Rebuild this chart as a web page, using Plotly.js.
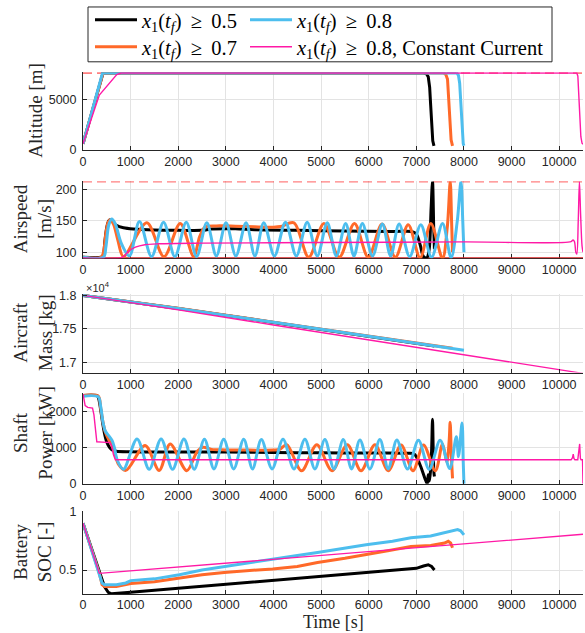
<!DOCTYPE html>
<html><head><meta charset="utf-8">
<script src="https://cdn.plot.ly/plotly-3.0.1.min.js"></script>
<style>html,body{margin:0;padding:0;background:#fff}#chart{width:585px;height:633px}</style>
</head><body><div id="chart"></div>
<script>
// ---------- Altitude [m] ----------
const tAltBlack = [0, 420, 7150, 7210, 7250, 7280, 7300, 7320, 7345, 7370];
const altBlack  = [600, 7620, 7620, 7550, 7250, 6200, 4500, 2500, 900, 400];
const tAltOrange = [0, 420, 7570, 7620, 7655, 7680, 7705, 7730, 7760];
const altOrange  = [600, 7620, 7620, 7480, 7000, 5200, 2800, 1000, 400];
const tAltBlue = [0, 410, 7850, 7885, 7910, 7935, 7960, 7985, 8000];
const altBlue  = [600, 7620, 7620, 7380, 6600, 4200, 1800, 600, 400];
const tAltMag = [0, 343, 709, 800, 10370, 10392, 10410, 10430, 10455, 10480, 10500];
const altMag  = [600, 5435, 7470, 7620, 7620, 7300, 5600, 3200, 1300, 650, 550];
const altLimit = 7620;

// ---------- Airspeed [m/s] ----------
const tSpdBlack = [0, 380, 420, 460, 500, 540, 570, 620, 700, 850, 1060, 1500, 2000, 2500, 2700, 3200, 3600, 4500, 5500, 6500, 6900, 7000, 7080, 7150, 7220, 7270, 7310, 7340, 7365, 7380];
const spdBlack  = [92, 92, 94, 118, 140, 150, 152, 149, 143, 139, 137, 135.5, 135, 135, 137, 137.5, 136, 135, 134, 133, 133, 129, 112, 93, 91, 105, 170, 213, 140, 105];
const tSpdOrange = [0, 380, 430, 480, 530, 570, 640, 730, 849, 1340, 1700, 2042, 2324, 2450, 2560, 2800, 3200, 3600, 4000, 4150, 4430, 4740, 5060, 5380, 5700, 5990, 6280, 6560, 6830, 7080, 7304, 7550, 7650, 7712, 7740, 7760];
const spdOrange  = [92, 92, 100, 130, 148, 152, 145, 120, 93, 147, 93, 146, 93, 125, 140, 142, 141.5, 140.5, 140, 141, 147, 92, 146, 92, 146, 92, 145, 92, 144, 91, 146, 90, 140, 213, 150, 100];
const tSpdBlue = [0, 430, 480, 540, 603, 680, 800, 975, 1185, 1440, 1692, 1930, 2169, 2385, 2600, 2800, 3003, 3210, 3424, 3610, 3796, 4020, 4252, 4480, 4708, 4920, 5129, 5320, 5515, 5690, 5866, 6080, 6287, 6460, 6638, 6860, 7094, 7320, 7550, 7730, 7860, 7937, 7975, 8000];
const spdBlue  = [92, 92, 108, 143, 153, 145, 115, 94, 149, 93, 148, 93, 148, 93, 147, 94, 147, 94, 147, 94, 147, 94, 148, 94, 148, 94, 147, 94, 146, 94, 146, 94, 145, 94, 145, 93, 144, 92, 146, 91, 150, 213, 150, 100];
const tSpdMag = [0, 780, 850, 950, 1100, 1300, 1600, 2500, 5000, 8000, 10250, 10290, 10320, 10350, 10370, 10400, 10425, 10450, 10480, 10500];
const spdMag  = [91, 91, 93, 101, 108, 112, 113.5, 114.5, 115.5, 116.5, 117, 119.5, 117, 100, 97, 150, 213, 160, 110, 100];
const spdLimits = [90.9, 212.5];

// ---------- Aircraft mass [kg] ----------
const tMassBlack = [0, 400, 2000, 4000, 6000, 7380];
const massBlack  = [18000, 17962, 17805, 17598, 17390, 17245];
const tMassOrange = [0, 400, 2000, 4000, 6000, 7760];
const massOrange  = [18000, 17963, 17808, 17602, 17396, 17212];
const tMassBlue = [0, 400, 2000, 4000, 6000, 8000];
const massBlue  = [18000, 17963, 17806, 17600, 17393, 17183];
const tMassMag = [0, 400, 2000, 4000, 6000, 8000, 10500];
const massMag  = [18000, 17958, 17785, 17560, 17338, 17115, 16840];

// ---------- Shaft power [kW] ----------
const tPowBlack = [0, 300, 330, 370, 410, 450, 500, 560, 620, 700, 1000, 2000, 3000, 4000, 5000, 6000, 6800, 6950, 7020, 7100, 7180, 7230, 7250, 7275, 7300, 7320, 7340, 7355, 7370, 7380];
const powBlack  = [2440, 2430, 2350, 2050, 1700, 1400, 1150, 1000, 930, 900, 885, 875, 875, 865, 855, 850, 845, 830, 700, 450, 150, 0, 250, 80, 400, 900, 1780, 900, 300, 200];
const tPowOrange = [0, 320, 370, 420, 470, 540, 600, 660, 740, 900, 1305, 1600, 1830, 2180, 2400, 2520, 2700, 3000, 3500, 4000, 4130, 4280, 4590, 4910, 5230, 5550, 5840, 6130, 6410, 6680, 6930, 7150, 7400, 7550, 7640, 7690, 7710, 7735, 7760];
const powOrange  = [2440, 2420, 2100, 1700, 1420, 1220, 1080, 880, 550, 370, 1060, 370, 1100, 360, 900, 1010, 950, 935, 930, 930, 950, 1080, 360, 1080, 360, 1080, 360, 1080, 360, 1070, 360, 1070, 360, 1100, 600, 1200, 1700, 800, 150];
const tPowBlue = [0, 320, 370, 420, 470, 540, 610, 660, 720, 850, 1135, 1390, 1640, 1880, 2120, 2335, 2550, 2750, 2955, 3165, 3375, 3560, 3745, 3970, 4200, 4430, 4660, 4870, 5080, 5270, 5465, 5640, 5815, 6025, 6235, 6410, 6590, 6815, 7045, 7270, 7500, 7700, 7840, 7885, 7960, 7985, 8000];
const powBlue  = [2420, 2400, 2150, 1700, 1450, 1330, 1200, 1000, 650, 400, 1240, 400, 1240, 400, 1240, 400, 1230, 410, 1230, 410, 1230, 410, 1220, 410, 1230, 410, 1230, 410, 1220, 410, 1220, 410, 1210, 410, 1220, 410, 1210, 410, 1200, 400, 1200, 420, 1300, 750, 1680, 600, 0];
const tPowMag = [0, 20, 45, 100, 200, 230, 260, 290, 400, 560, 600, 640, 680, 1000, 5000, 10250, 10280, 10295, 10310, 10330, 10390, 10410, 10430, 10445, 10460, 10490, 10500];
const powMag  = [2480, 2300, 2160, 2110, 2090, 1900, 1400, 1160, 1150, 1140, 1050, 800, 665, 662, 662, 662, 720, 820, 700, 662, 662, 900, 1100, 700, 662, 662, 0];

// ---------- Battery SOC [-] ----------
const tSocBlack = [0, 344, 450, 530, 600, 1000, 2000, 3000, 4000, 5000, 6000, 7000, 7150, 7250, 7320, 7380];
const socBlack  = [0.9, 0.472, 0.36, 0.31, 0.298, 0.31, 0.345, 0.38, 0.413, 0.447, 0.48, 0.515, 0.535, 0.545, 0.53, 0.5];
const tSocOrange = [0, 344, 400, 450, 700, 900, 1004, 1500, 2024, 2500, 2965, 3500, 3984, 4500, 4925, 5500, 5945, 6400, 6886, 7300, 7592, 7670, 7720, 7760];
const socOrange  = [0.9, 0.472, 0.375, 0.36, 0.36, 0.375, 0.385, 0.4, 0.43, 0.46, 0.48, 0.495, 0.51, 0.53, 0.565, 0.6, 0.63, 0.665, 0.7, 0.71, 0.73, 0.745, 0.73, 0.69];
const tSocBlue = [0, 344, 400, 450, 700, 900, 1004, 1500, 2024, 2500, 2965, 3500, 3984, 4500, 4925, 5500, 5945, 6500, 6886, 7300, 7592, 7867, 7930, 8000];
const socBlue  = [0.9, 0.472, 0.39, 0.375, 0.375, 0.39, 0.41, 0.425, 0.46, 0.5, 0.53, 0.565, 0.598, 0.625, 0.65, 0.69, 0.715, 0.745, 0.775, 0.79, 0.815, 0.845, 0.835, 0.8];
const tSocMag = [0, 344, 10500];
const socMag  = [0.9, 0.472, 0.805];

const seriesNames = [
  '<i>x</i><sub>1</sub>(<i>t</i><sub><i>f</i></sub>)\u2009 \u2265 \u20090.5',
  '<i>x</i><sub>1</sub>(<i>t</i><sub><i>f</i></sub>)\u2009 \u2265 \u20090.7',
  '<i>x</i><sub>1</sub>(<i>t</i><sub><i>f</i></sub>)\u2009 \u2265 \u20090.8',
  '<i>x</i><sub>1</sub>(<i>t</i><sub><i>f</i></sub>)\u2009 \u2265 \u20090.8, Constant Current'
];
const colors = ['#000000', '#FF6929', '#4DBEEE', '#FF19A6'];
const widths = [3, 3, 3, 1.4];
const legendIds = ['legend', 'legend3', 'legend2', 'legend4'];

// ---------- build ----------
const H = 633, L = 83, PW = 500;
const py = v => 1 - v / H;
const pxp = v => (v - L) / PW;

const panels = [
  {t: [tAltBlack, tAltOrange, tAltBlue, tAltMag], y: [altBlack, altOrange, altBlue, altMag], shape: 'linear'},
  {t: [tSpdBlack, tSpdOrange, tSpdBlue, tSpdMag], y: [spdBlack, spdOrange, spdBlue, spdMag], shape: 'spline'},
  {t: [tMassBlack, tMassOrange, tMassBlue, tMassMag], y: [massBlack, massOrange, massBlue, massMag], shape: 'linear'},
  {t: [tPowBlack, tPowOrange, tPowBlue, tPowMag], y: [powBlack, powOrange, powBlue, powMag], shape: 'spline'},
  {t: [tSocBlack, tSocOrange, tSocBlue, tSocMag], y: [socBlack, socOrange, socBlue, socMag], shape: 'linear'}
];

const traces = [];
traces.push({x: [0, 10500], y: [altLimit, altLimit], xaxis: 'x', yaxis: 'y', mode: 'lines',
  line: {color: '#FF0000', width: 1.2, dash: '9px,5px'}, showlegend: false, hoverinfo: 'skip'});
traces.push({x: [0, 10500], y: [spdLimits[1], spdLimits[1]], xaxis: 'x2', yaxis: 'y2', mode: 'lines',
  line: {color: '#FF0000', width: 1.2, dash: '9px,5px'}, showlegend: false, hoverinfo: 'skip'});
traces.push({x: [0, 10500], y: [spdLimits[0], spdLimits[0]], xaxis: 'x2', yaxis: 'y2', mode: 'lines',
  line: {color: '#D42020', width: 1.5}, showlegend: false, hoverinfo: 'skip'});

panels.forEach((p, pi) => {
  const ax = pi === 0 ? '' : String(pi + 1);
  for (let s = 0; s < 4; s++) {
    let shp = p.shape;
    if (s === 3 && pi !== 1) shp = 'linear';
    traces.push({
      x: p.t[s], y: p.y[s], xaxis: 'x' + ax, yaxis: 'y' + ax, mode: 'lines',
      line: {color: colors[s], width: widths[s], shape: shp, smoothing: 0.9},
      name: seriesNames[s], showlegend: pi === 0, legend: legendIds[s]
    });
  }
});

const domainsPx = [[70.4, 148.3], [180, 257], [292.7, 371.7], [392.5, 483.3], [511, 594]];
const yRanges = [[0, 7700], [90.5, 213], [16852, 18024], [0, 2500], [0.295, 1.0]];
const yTicks = [
  {v: [0, 5000], t: ['0', '5000']},
  {v: [100, 150, 200], t: ['100', '150', '200']},
  {v: [17000, 17500, 18000], t: ['1.7', '1.75', '1.8']},
  {v: [0, 1000, 2000], t: ['0', '1000', '2000']},
  {v: [0.5, 1], t: ['0.5', '1']}
];
const xTickVals = [0, 1000, 2000, 3000, 4000, 5000, 6000, 7000, 8000, 9000, 10000];
const tickFont = {family: 'Liberation Sans, Arial, sans-serif', size: 12.5, color: '#262626'};

const layout = {
  width: 585, height: 633,
  margin: {l: L, r: 585 - L - PW, t: 0, b: 0},
  paper_bgcolor: '#fff', plot_bgcolor: '#fff',
  showlegend: true,
  annotations: [], shapes: []
};

for (let i = 0; i < 5; i++) {
  const ax = i === 0 ? '' : String(i + 1);
  layout['xaxis' + ax] = {
    domain: [0, 1], range: [0, 10500], anchor: 'y' + ax,
    tickvals: xTickVals, ticktext: xTickVals.map(String),
    ticks: 'inside', ticklen: 4, tickcolor: '#262626', tickwidth: 1,
    showline: true, linecolor: '#262626', linewidth: 1,
    showgrid: true, gridcolor: '#E3E3E3', gridwidth: 1, zeroline: false,
    tickfont: tickFont, fixedrange: true, ticklabelstandoff: i === 4 ? -1 : 0,
    layer: i === 1 ? 'below traces' : 'above traces'
  };
  layout['yaxis' + ax] = {
    domain: [py(domainsPx[i][1]), py(domainsPx[i][0])], range: yRanges[i], anchor: 'x' + ax,
    tickvals: yTicks[i].v, ticktext: yTicks[i].t,
    ticks: 'inside', ticklen: 4, tickcolor: '#262626', tickwidth: 1,
    showline: true, linecolor: '#262626', linewidth: 1,
    showgrid: true, gridcolor: '#E3E3E3', gridwidth: 1, zeroline: false,
    tickfont: tickFont, fixedrange: true, ticklabelstandoff: 3
  };
}

// legends (one per entry)
const legPos = [[93, 18], [248, 18], [93, 45], [248, 45]];
['legend', 'legend2', 'legend3', 'legend4'].forEach((id, k) => {
  layout[id] = {
    x: pxp(legPos[k][0] - 3), xanchor: 'left', y: py(legPos[k][1]), yanchor: 'middle',
    bgcolor: 'rgba(0,0,0,0)', borderwidth: 0, itemwidth: 42,
    font: {family: 'Liberation Serif, Times New Roman, serif', size: 20.5, color: '#000'},
    orientation: 'v'
  };
});
layout.shapes.push({type: 'rect', xref: 'paper', yref: 'paper',
  x0: pxp(88), x1: pxp(552), y0: py(60), y1: py(5),
  line: {color: '#262626', width: 1}, fillcolor: 'rgba(0,0,0,0)', layer: 'below'});

// axis titles as annotations
const titleFont = {family: 'Liberation Serif, Times New Roman, serif', size: 19, color: '#262626'};
const yTitles = [
  ['Altitude [m]', 36, 109],
  ['Airspeed<br>[m/s]', 33, 218],
  ['Aircraft<br>Mass [kg]', 33, 332],
  ['Shaft<br>Power [kW]', 33, 433],
  ['Battery<br>SOC [-]', 33, 552]
];
yTitles.forEach(([txt, x, y]) => {
  layout.annotations.push({text: txt, xref: 'paper', yref: 'paper', x: pxp(x), y: py(y),
    xanchor: 'center', yanchor: 'middle', textangle: -90, showarrow: false, font: titleFont});
});
layout.annotations.push({text: 'Time [s]', xref: 'paper', yref: 'paper', x: pxp(333), y: 0,
  xanchor: 'center', yanchor: 'bottom', borderpad: 0, showarrow: false,
  font: {family: 'Liberation Serif, Times New Roman, serif', size: 18, color: '#262626'}});
layout.annotations.push({text: '\u00d710<sup>4</sup>', xref: 'paper', yref: 'paper', x: pxp(84), y: py(286),
  xanchor: 'left', yanchor: 'middle', showarrow: false,
  font: {family: 'Liberation Sans, Arial, sans-serif', size: 11, color: '#262626'}});

Plotly.newPlot('chart', traces, layout, {displayModeBar: false, staticPlot: true});
</script></body></html>
